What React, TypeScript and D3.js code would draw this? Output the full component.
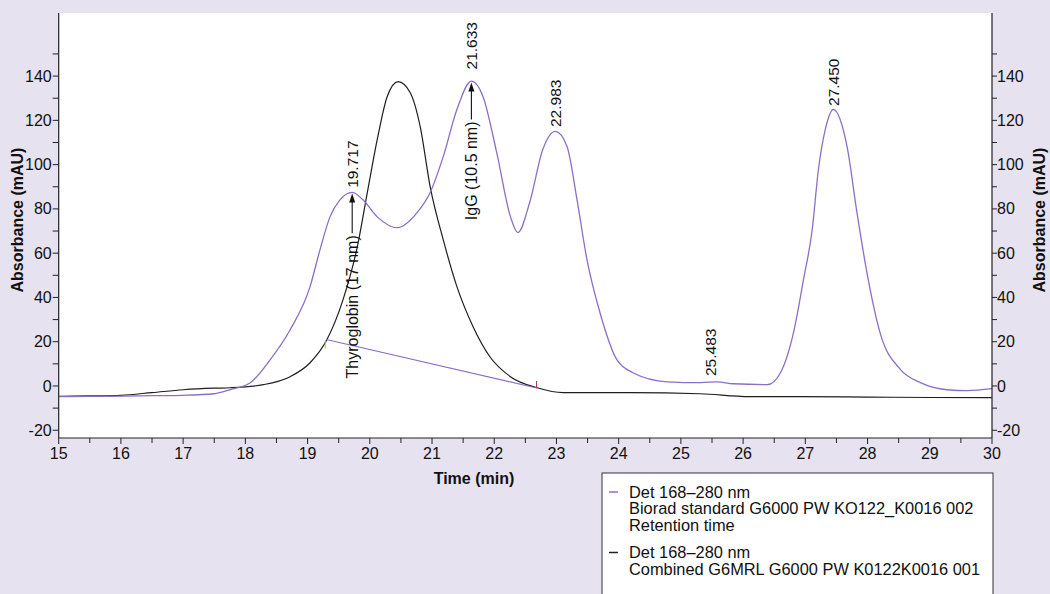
import React from "react";
import * as d3 from "d3";

// ---- data ----
const standardTime = [15.0, 15.5, 16.0, 16.5, 17.0, 17.5, 17.76, 18.08, 18.4, 18.72, 19.04, 19.2, 19.36, 19.52, 19.717, 19.89, 20.12, 20.44, 20.76, 20.97, 21.18, 21.4, 21.633, 21.82, 22.04, 22.26, 22.38, 22.57, 22.78, 22.983, 23.17, 23.33, 23.49, 23.7, 23.97, 24.23, 24.78, 25.31, 25.58, 25.84, 26.39, 26.6, 26.81, 26.97, 27.11, 27.21, 27.32, 27.45, 27.67, 27.83, 27.99, 28.2, 28.53, 28.85, 29.28, 29.6, 30.0];
const standardAbs = [-4.8, -4.7, -4.6, -4.4, -4.2, -3.5, -1.6, 1.5, 11.9, 25.4, 44.9, 61.6, 76.4, 84.1, 87.5, 84.1, 76.4, 71.5, 78.3, 87.4, 103.6, 124.9, 137.7, 130.7, 105.4, 76.5, 69.3, 82.9, 106.8, 115.0, 108.2, 84.2, 57.1, 33.1, 11.9, 6.0, 1.9, 1.5, 1.9, 1.0, 0.6, 6.0, 24.1, 48.0, 70.6, 97.8, 115.8, 124.9, 108.2, 78.3, 51.2, 24.1, 7.4, 1.5, -1.7, -2.1, -1.2];

const combinedTime = [15.0, 15.5, 16.0, 16.5, 17.0, 17.5, 17.76, 18.29, 18.72, 19.04, 19.31, 19.57, 19.8, 19.96, 20.12, 20.28, 20.455, 20.65, 20.81, 20.97, 21.18, 21.4, 21.66, 21.93, 22.26, 22.69, 23.11, 24.19, 25.31, 26.1, 26.9, 28.0, 29.0, 30.0];
const combinedAbs = [-4.7, -4.5, -4.2, -3.0, -1.7, -1.0, -0.8, 0.6, 4.2, 10.5, 20.9, 39.0, 63.0, 87.4, 111.4, 130.8, 137.5, 132.5, 117.2, 90.1, 66.1, 44.9, 26.8, 13.2, 4.2, -0.8, -3.0, -3.0, -3.5, -4.8, -4.8, -5.0, -5.2, -5.3];

// integration baseline of the standard
const baselineTime = [19.3, 22.68];
const baselineAbs = [21.0, -0.9];

// retention-time labels
const peakTimes = [19.717, 21.633, 22.983, 25.483, 27.45];
const peakLabels = ["19.717", "21.633", "22.983", "25.483", "27.450"];
const peakLabelAbs = [89.5, 143.0, 117.0, 4.5, 126.5];

// named markers with arrows
const markerNames = ["Thyroglobin (17 nm)", "IgG (10.5 nm)"];
const markerTimes = [19.717, 21.633];
const markerArrowFrom = [69.0, 120.4];
const markerArrowTo = [87.0, 137.1];

const xTickValues = d3.range(15, 30.01, 1);
const xMinorTicks = d3.range(15.5, 30, 1);
const yTickValues = [-20, 0, 20, 40, 60, 80, 100, 120, 140];
const yMinorTicks = [-10, 10, 30, 50, 70, 90, 110, 130, 150];

const legendItems = [
  { color: "#8b6fc6", lines: ["Det 168–280 nm", "Biorad standard G6000 PW KO122_K0016 002", "Retention time"] },
  { color: "#222222", lines: ["Det 168–280 nm", "Combined G6MRL G6000 PW K0122K0016 001"] },
];

const W = 1050;
const H = 594;
const FONT = "'Liberation Sans', Arial, Helvetica, sans-serif";
const PURPLE = "#8b6fc6";

export default function App() {
  const left = 58.7;
  const right = 992;
  const top = 13;
  const bottom = 438;

  const x = d3.scaleLinear().domain([15, 30]).range([left, right]);
  const y = d3.scaleLinear().domain([-23.5, 168.5]).range([bottom, top]);

  const line = d3
    .line<[number, number]>()
    .x((d) => x(d[0]))
    .y((d) => y(d[1]))
    .curve(d3.curveMonotoneX);

  const stdPts: [number, number][] = standardTime.map((t, i) => [t, standardAbs[i]]);
  const combPts: [number, number][] = combinedTime.map((t, i) => [t, combinedAbs[i]]);
  const basePts: [number, number][] = baselineTime.map((t, i) => [t, baselineAbs[i]]);

  return (
    <svg
      width={W}
      height={H}
      style={{ position: "absolute", left: 0, top: 0, display: "block" }}
      fontFamily={FONT}
    >
      <rect x={0} y={0} width={W} height={H} fill="#e7e2f0" />
      <rect x={left} y={top} width={right - left} height={bottom - top} fill="#ffffff" />

      {/* curves */}
      <path d={line(combPts) || ""} fill="none" stroke="#1e1e1e" strokeWidth={1.2} />
      <path d={line(stdPts) || ""} fill="none" stroke={PURPLE} strokeWidth={1.3} />
      <path d={line(basePts) || ""} fill="none" stroke={PURPLE} strokeWidth={1.1} />
      <line x1={x(baselineTime[0]) - 1} x2={x(baselineTime[0]) - 1} y1={y(baselineAbs[0]) + 1} y2={y(baselineAbs[0]) + 9} stroke="#9ad04a" strokeWidth={1} />
      <line x1={x(baselineTime[1])} x2={x(baselineTime[1])} y1={y(baselineAbs[1]) - 7} y2={y(baselineAbs[1])} stroke="#b0304a" strokeWidth={1} />

      {/* axes lines */}
      <line x1={left} x2={left} y1={top} y2={bottom} stroke="#222" strokeWidth={1.2} />
      <line x1={right} x2={right} y1={top} y2={bottom} stroke="#222" strokeWidth={1.2} />
      <line x1={left} x2={right} y1={bottom} y2={bottom} stroke="#222" strokeWidth={1.2} />

      {/* x ticks */}
      {xTickValues.map((v) => (
        <g key={"xt" + v}>
          <line x1={x(v)} x2={x(v)} y1={bottom} y2={bottom + 6} stroke="#222" strokeWidth={1} />
          <text x={x(v)} y={bottom + 21} textAnchor="middle" fontSize={16} fill="#111">
            {v}
          </text>
        </g>
      ))}
      {xMinorTicks.map((v) => (
        <line key={"xm" + v} x1={x(v)} x2={x(v)} y1={bottom} y2={bottom + 5} stroke="#222" strokeWidth={1} />
      ))}

      {/* y ticks left & right */}
      {yTickValues.map((v) => (
        <g key={"yt" + v}>
          <line x1={left - 6} x2={left} y1={y(v)} y2={y(v)} stroke="#222" strokeWidth={1} />
          <text x={left - 7} y={y(v)} dy="0.35em" textAnchor="end" fontSize={16} fill="#111">
            {v}
          </text>
          <line x1={right} x2={right + 5} y1={y(v)} y2={y(v)} stroke="#222" strokeWidth={1} />
          <text x={right + 5} y={y(v)} dy="0.35em" textAnchor="start" fontSize={16} fill="#111">
            {v}
          </text>
        </g>
      ))}
      {yMinorTicks.map((v) => (
        <g key={"ym" + v}>
          <line x1={left - 6} x2={left} y1={y(v)} y2={y(v)} stroke="#222" strokeWidth={1} />
          <line x1={right} x2={right + 5} y1={y(v)} y2={y(v)} stroke="#222" strokeWidth={1} />
        </g>
      ))}

      {/* axis titles */}
      <text transform={`translate(17,220) rotate(-90)`} textAnchor="middle" dy="0.35em" fontSize={16} fontWeight="bold" fill="#111">
        Absorbance (mAU)
      </text>
      <text transform={`translate(1039,220) rotate(-90)`} textAnchor="middle" dy="0.35em" fontSize={16} fontWeight="bold" fill="#111">
        Absorbance (mAU)
      </text>
      <text x={474} y={484} textAnchor="middle" fontSize={16} fontWeight="bold" fill="#111">
        Time (min)
      </text>

      {/* peak labels */}
      {peakTimes.map((t, i) => (
        <text
          key={"pl" + i}
          transform={`translate(${x(t)},${y(peakLabelAbs[i])}) rotate(-90)`}
          textAnchor="start"
          dy="0.35em"
          fontSize={15.5}
          fill="#111"
        >
          {peakLabels[i]}
        </text>
      ))}

      {/* named markers with arrows */}
      {markerNames.map((name, i) => {
        const cx = x(markerTimes[i]);
        const y0 = y(markerArrowFrom[i]);
        const y1 = y(markerArrowTo[i]);
        return (
          <g key={"mk" + i}>
            <text
              transform={`translate(${cx},${y0 + 2}) rotate(-90)`}
              textAnchor="end"
              dy="0.35em"
              fontSize={16}
              fill="#111"
            >
              {name}
            </text>
            <line x1={cx} x2={cx} y1={y0} y2={y1 + 6} stroke="#111" strokeWidth={1.1} />
            <path d={`M${cx - 3},${y1 + 9} L${cx + 3},${y1 + 9} L${cx},${y1} Z`} fill="#111" />
          </g>
        );
      })}

      {/* legend */}
      <rect x={602} y={473} width={391} height={130} fill="#ffffff" stroke="#333" strokeWidth={1} />
      {(() => {
        let yy = 492;
        const out: React.ReactNode[] = [];
        legendItems.forEach((item, k) => {
          out.push(
            <line key={"ll" + k} x1={609} x2={618} y1={yy} y2={yy} stroke={item.color} strokeWidth={1.5} />
          );
          item.lines.forEach((ln, j) => {
            out.push(
              <text key={"lt" + k + "_" + j} x={629} y={yy + j * 16.5} dy="0.35em" fontSize={16.4} fill="#111">
                {ln}
              </text>
            );
          });
          yy += item.lines.length * 16.5 + 11;
        });
        return out;
      })()}
    </svg>
  );
}
